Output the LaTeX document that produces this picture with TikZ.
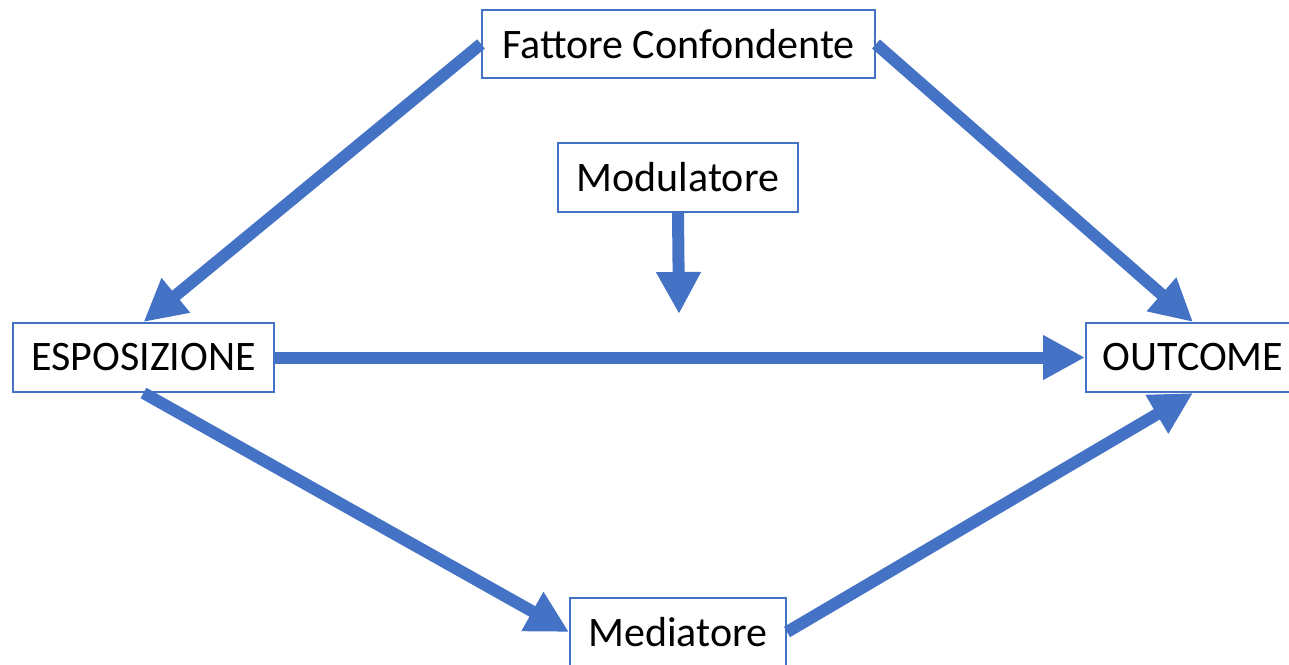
\documentclass[tikz,border=0pt]{standalone}
\usepackage{fontspec}
\setmainfont{Carlito}
\usetikzlibrary{arrows.meta}
\definecolor{officeblue}{HTML}{4472C4}
\tikzset{
  box/.style={draw=officeblue, line width=2pt, fill=white, rectangle,
    inner sep=0pt, text=black, font=\fontsize{42}{50}\selectfont},
  link/.style={draw=officeblue, line width=12pt,
    -{Triangle[length=42pt,width=42pt]}, shorten <=0pt}
}
\begin{document}
\begin{tikzpicture}[x=1pt,y=-1pt]
  \useasboundingbox (0,0) rectangle (1289,664);
  \clip (0,0) rectangle (1289,664);

  % variables
  \node[box, minimum width=393pt, minimum height=68pt] (fc)  at (678.5,44)  {Fattore Confondente};
  \node[box, minimum width=240pt, minimum height=69pt] (mod) at (678,177.5) {Modulatore};
  \node[box, minimum width=261pt, minimum height=69pt] (esp) at (143.5,357.5) {ESPOSIZIONE};
  \node[box, minimum width=214pt, minimum height=69pt] (out) at (1193,357.5) {OUTCOME};
  \node[box, minimum width=216pt, minimum height=68pt] (med) at (678,632)   {Mediatore};
  \coordinate (modend) at (679,314);

  % causal paths
  \draw[link] (fc.west) -- (esp.north);
  \draw[link] (fc.east) -- (out.north);
  \draw[link] (esp.east) -- (out.west);
  \draw[link] (esp.south) -- (med.west);
  \draw[link] (med.east) -- (out.south);
  \draw[link] (mod.south) -- (modend);
\end{tikzpicture}
\end{document}
